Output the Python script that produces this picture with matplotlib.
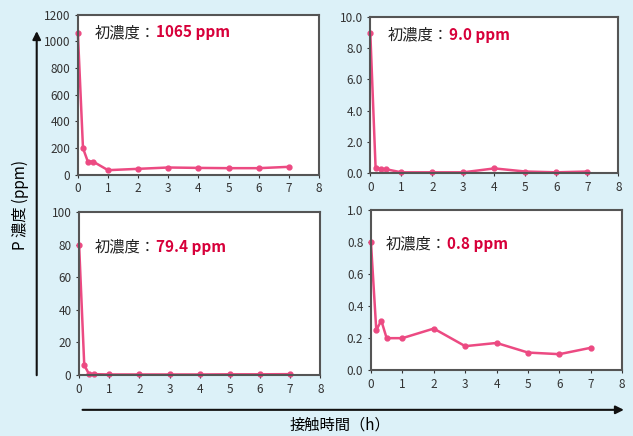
import matplotlib
matplotlib.use('Agg')
import matplotlib.pyplot as plt

plt.rcParams['font.family'] = ['Noto Sans CJK JP', 'DejaVu Sans']

# contact time (h)
hours = [0, 0.17, 0.33, 0.5, 1, 2, 3, 4, 5, 6, 7]

p_1065 = [1065, 200, 100, 100, 35, 45, 55, 52, 50, 50, 60]
p_9 = [9.0, 0.35, 0.25, 0.25, 0.05, 0.05, 0.05, 0.3, 0.1, 0.05, 0.1]
p_794 = [79.4, 6.0, 0.5, 0.5, 0.3, 0.3, 0.3, 0.3, 0.4, 0.4, 0.5]
p_08 = [0.8, 0.25, 0.31, 0.2, 0.2, 0.26, 0.15, 0.17, 0.11, 0.1, 0.14]

labels = ['1065 ppm', '9.0 ppm', '79.4 ppm', '0.8 ppm']
series = [p_1065, p_9, p_794, p_08]
ylims = [(0, 1200), (0, 10), (0, 100), (0, 1.0)]
yticks = [[0, 200, 400, 600, 800, 1000, 1200],
          [0, 2, 4, 6, 8, 10],
          [0, 20, 40, 60, 80, 100],
          [0, 0.2, 0.4, 0.6, 0.8, 1.0]]
yfmt = ['{:.0f}', '{:.1f}', '{:.0f}', '{:.1f}']

rects = [[0.123, 0.599, 0.381, 0.367],
         [0.585, 0.603, 0.392, 0.358],
         [0.125, 0.140, 0.381, 0.374],
         [0.586, 0.151, 0.397, 0.367]]
text_pos = [(0.07, 0.89), (0.07, 0.885), (0.066, 0.785), (0.06, 0.79)]

bg = '#dcf1f8'
line_c = '#ec4a82'
red = '#d7003a'

fig = plt.figure(figsize=(6.33, 4.36), dpi=100)
fig.patch.set_facecolor(bg)

for i in range(4):
    ax = fig.add_axes(rects[i])
    ax.set_facecolor('white')
    ax.plot(hours, series[i], color=line_c, lw=1.8, marker='o', ms=3.5, clip_on=False)
    ax.set_xlim(0, 8)
    ax.set_ylim(*ylims[i])
    ax.set_xticks(range(9))
    ax.set_yticks(yticks[i])
    ax.set_yticklabels([yfmt[i].format(v) for v in yticks[i]])
    ax.tick_params(labelsize=8.5, length=2, colors='#333333')
    for s in ax.spines.values():
        s.set_color('#555555')
        s.set_linewidth(1.5)
    t = ax.text(text_pos[i][0], text_pos[i][1], '初濃度：', transform=ax.transAxes,
                fontsize=11, va='center', ha='left', color='#222222')
    ax.annotate(labels[i], xy=(1, 0.5), xycoords=t, va='center', ha='left',
                fontsize=11, color=red, fontweight='bold')

# axis arrows
fig.add_artist(matplotlib.patches.FancyArrowPatch((0.058, 0.133), (0.058, 0.935),
               transform=fig.transFigure, arrowstyle='-|>', mutation_scale=12,
               color='#111111', lw=1.5))
fig.add_artist(matplotlib.patches.FancyArrowPatch((0.126, 0.06), (0.99, 0.06),
               transform=fig.transFigure, arrowstyle='-|>', mutation_scale=12,
               color='#111111', lw=1.5))

fig.text(0.032, 0.53, 'P 濃度 (ppm)', rotation=90, ha='center', va='center', fontsize=11)
fig.text(0.537, 0.025, '接触時間（h）', ha='center', va='center', fontsize=11)

fig.savefig('out.png', dpi=100, facecolor=bg)
